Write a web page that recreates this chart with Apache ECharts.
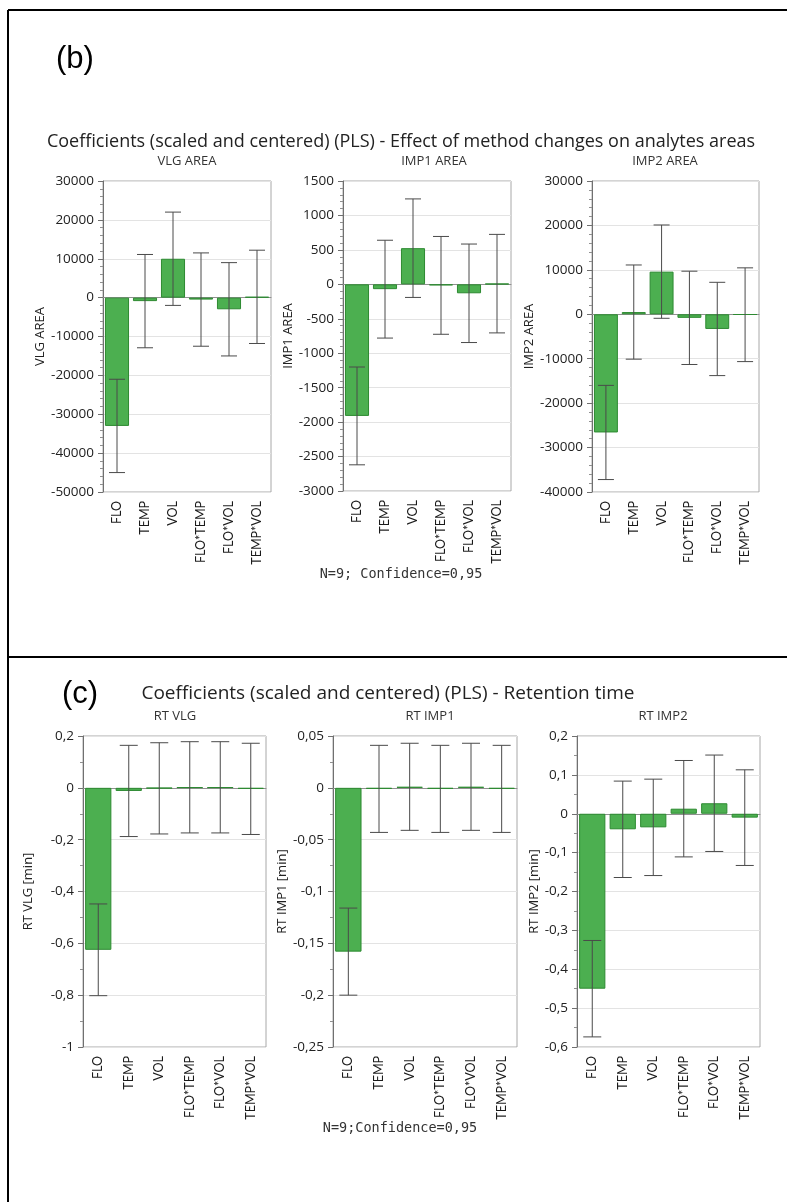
<!DOCTYPE html>
<html>
<head>
<meta charset="utf-8">
<script src="https://cdn.jsdelivr.net/npm/echarts@6/dist/echarts.min.js"></script>
<style>
html,body{margin:0;padding:0;background:#fff;}
#chart{width:787px;height:1202px;}
</style>
</head>
<body>
<div id="chart"></div>
<script>
// ---------- data ----------
var categories = ['FLO', 'TEMP', 'VOL', 'FLO*TEMP', 'FLO*VOL', 'TEMP*VOL'];

var vlgArea     = [-33000, -900, 10000, -500, -3000, 200];
var vlgAreaErr  = [12000, 12000, 12000, 12000, 12000, 12000];
var imp1Area    = [-1910, -70, 525, -15, -130, 10];
var imp1AreaErr = [710, 710, 715, 710, 715, 715];
var imp2Area    = [-26600, 500, 9600, -800, -3300, -100];
var imp2AreaErr = [10600, 10600, 10500, 10500, 10500, 10550];

var rtVlg     = [-0.625, -0.012, -0.002, 0.002, 0.002, -0.004];
var rtVlgErr  = [0.177, 0.176, 0.176, 0.176, 0.176, 0.176];
var rtImp1    = [-0.158, -0.001, 0.001, -0.001, 0.001, -0.001];
var rtImp1Err = [0.042, 0.042, 0.042, 0.042, 0.042, 0.042];
var rtImp2    = [-0.45, -0.040, -0.035, 0.013, 0.027, -0.010];
var rtImp2Err = [0.124, 0.124, 0.124, 0.124, 0.124, 0.123];

var panelTitles = ['VLG AREA', 'IMP1 AREA', 'IMP2 AREA', 'RT VLG', 'RT IMP1', 'RT IMP2'];
var yNames = ['VLG AREA', 'IMP1 AREA', 'IMP2 AREA', 'RT VLG [min]', 'RT IMP1 [min]', 'RT IMP2 [min]'];
var yMin = [-50000, -3000, -40000, -1, -0.25, -0.6];
var yMax = [30000, 1500, 30000, 0.2, 0.05, 0.2];
var yInterval = [10000, 500, 10000, 0.2, 0.05, 0.1];
var ySplit = [5, 5, 5, 2, 2, 2];

var titleB = 'Coefficients (scaled and centered) (PLS) - Effect of method changes on analytes areas';
var titleC = 'Coefficients (scaled and centered) (PLS) - Retention time';
var footB = 'N=9; Confidence=0,95';
var footC = 'N=9;Confidence=0,95';

// ---------- layout ----------
var grids = [
  {left: 103, top: 181, width: 168, height: 311},
  {left: 343, top: 181, width: 168, height: 310},
  {left: 592, top: 181, width: 167, height: 311},
  {left: 83,  top: 736, width: 183, height: 311},
  {left: 333, top: 736, width: 184, height: 311},
  {left: 577, top: 736, width: 183, height: 311}
];
var yNameGap = [51, 36, 51, 48, 42, 32];
var subX = [187, 434, 665, 175, 430, 663];
var values = [vlgArea, imp1Area, imp2Area, rtVlg, rtImp1, rtImp2];
var errs = [vlgAreaErr, imp1AreaErr, imp2AreaErr, rtVlgErr, rtImp1Err, rtImp2Err];

var FONT = '"Open Sans", "Noto Sans", sans-serif';

function fmt(v) {
  var s = String(Number(v.toFixed(6)));
  return s.replace('.', ',');
}

var gridOpt = [], xAxes = [], yAxes = [], series = [];
for (var i = 0; i < 6; i++) {
  gridOpt.push({
    left: grids[i].left, top: grids[i].top, width: grids[i].width, height: grids[i].height,
    show: true, borderColor: '#a8a8a8', borderWidth: 1, backgroundColor: 'transparent'
  });
  xAxes.push({
    type: 'category', gridIndex: i, data: categories,
    axisLine: {lineStyle: {color: '#909090'}},
    axisTick: {alignWithLabel: true, length: 5, lineStyle: {color: '#707070'}},
    axisLabel: {rotate: 90, margin: 9, fontFamily: 'Lato, sans-serif', fontSize: 12.5, color: '#1a1a1a', interval: 0}
  });
  yAxes.push({
    type: 'value', gridIndex: i, min: yMin[i], max: yMax[i], interval: yInterval[i],
    name: yNames[i], nameLocation: 'middle', nameGap: yNameGap[i], nameRotate: 90,
    nameTextStyle: {fontFamily: FONT, fontSize: 13, color: '#222'},
    axisLine: {show: true, lineStyle: {color: '#707070'}},
    axisTick: {show: true, length: 5, lineStyle: {color: '#707070'}},
    minorTick: {show: true, splitNumber: ySplit[i], length: 3, lineStyle: {color: '#909090'}},
    splitLine: {show: true, lineStyle: {color: '#e3e3e3', width: 1}},
    axisLabel: {fontFamily: FONT, fontSize: 13.5, color: '#222', margin: 9, formatter: fmt}
  });
  series.push({
    type: 'bar', xAxisIndex: i, yAxisIndex: i, data: values[i],
    barCategoryGap: '14%',
    itemStyle: {color: '#4caf50', borderColor: '#2d8a31', borderWidth: 1},
    z: 2
  });
  var ed = [];
  for (var k = 0; k < categories.length; k++) {
    ed.push([k, values[i][k] - errs[i][k], values[i][k] + errs[i][k]]);
  }
  (function (capHalf) {
    series.push({
      type: 'custom', xAxisIndex: i, yAxisIndex: i, data: ed, z: 5,
      encode: {x: 0, y: [1, 2]},
      renderItem: function (params, api) {
        var x = api.value(0);
        var lo = api.coord([x, api.value(1)]);
        var hi = api.coord([x, api.value(2)]);
        var st = {stroke: '#4a4a4a', lineWidth: 1};
        return {
          type: 'group',
          children: [
            {type: 'line', shape: {x1: lo[0], y1: lo[1], x2: hi[0], y2: hi[1]}, style: st},
            {type: 'line', shape: {x1: lo[0] - capHalf, y1: lo[1], x2: lo[0] + capHalf, y2: lo[1]}, style: st},
            {type: 'line', shape: {x1: hi[0] - capHalf, y1: hi[1], x2: hi[0] + capHalf, y2: hi[1]}, style: st}
          ]
        };
      }
    });
  })(i < 3 ? 8 : 9);
}

var graphics = [
  {type: 'line', shape: {x1: 8, y1: 10, x2: 787, y2: 10}, style: {stroke: '#000', lineWidth: 2}},
  {type: 'line', shape: {x1: 8, y1: 10, x2: 8, y2: 1202}, style: {stroke: '#000', lineWidth: 2}},
  {type: 'line', shape: {x1: 8, y1: 657, x2: 787, y2: 657}, style: {stroke: '#000', lineWidth: 2}},
  {type: 'text', x: 56, y: 59, style: {text: '(b)', font: '31px "Liberation Sans", Arial, sans-serif', fill: '#000', verticalAlign: 'middle'}},
  {type: 'text', x: 62, y: 694, style: {text: '(c)', font: '31px "Liberation Sans", Arial, sans-serif', fill: '#000', verticalAlign: 'middle'}},
  {type: 'text', x: 401, y: 142, style: {text: titleB, font: '18px ' + FONT, fill: '#222', align: 'center', verticalAlign: 'middle'}},
  {type: 'text', x: 388, y: 694, style: {text: titleC, font: '19px ' + FONT, fill: '#222', align: 'center', verticalAlign: 'middle'}},
  {type: 'text', x: 401, y: 574, style: {text: footB, font: '13.5px "DejaVu Sans Mono", monospace', fill: '#333', align: 'center', verticalAlign: 'middle'}},
  {type: 'text', x: 400, y: 1128, style: {text: footC, font: '13.5px "DejaVu Sans Mono", monospace', fill: '#333', align: 'center', verticalAlign: 'middle'}}
];
for (var j = 0; j < 6; j++) {
  graphics.push({type: 'text', x: subX[j], y: j < 3 ? 161 : 716,
    style: {text: panelTitles[j], font: '13px ' + FONT, fill: '#333', align: 'center', verticalAlign: 'middle'}});
}

var chart = echarts.init(document.getElementById('chart'), null, {renderer: 'canvas'});
chart.setOption({
  animation: false,
  backgroundColor: '#fff',
  grid: gridOpt,
  xAxis: xAxes,
  yAxis: yAxes,
  series: series,
  graphic: graphics
});
</script>
</body>
</html>
